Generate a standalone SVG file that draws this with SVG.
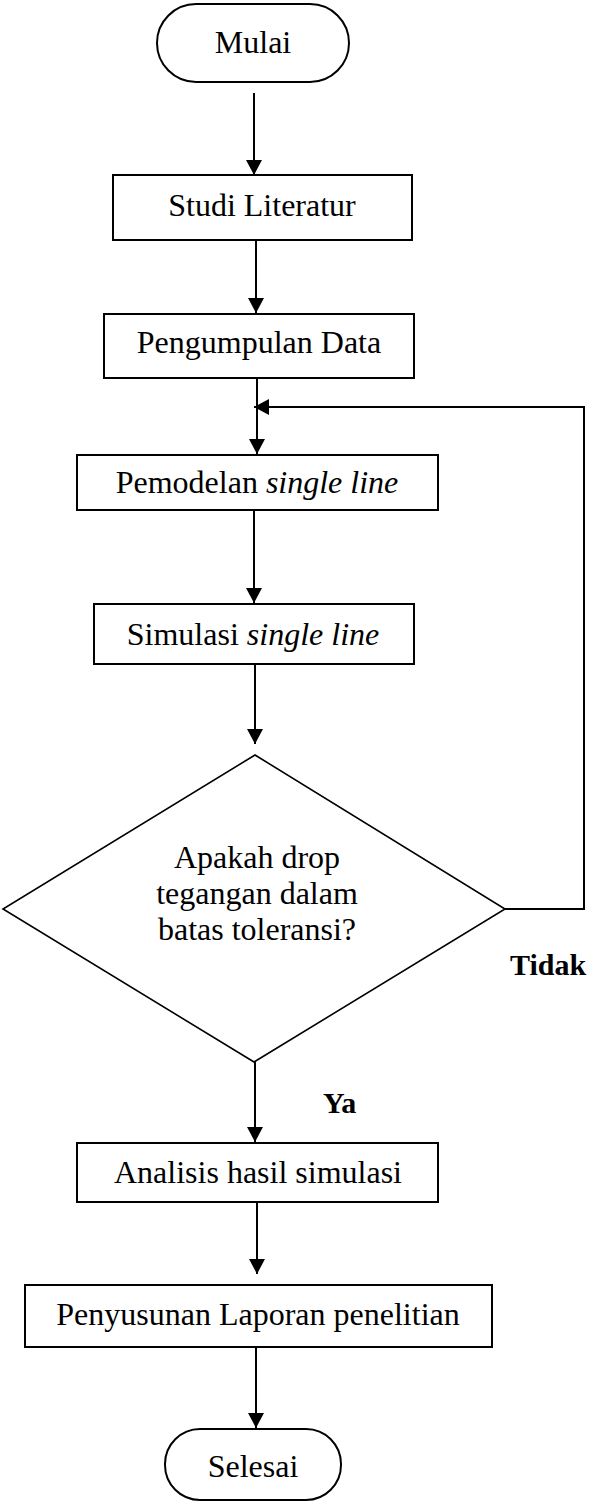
<svg xmlns="http://www.w3.org/2000/svg" width="589" height="1502" viewBox="0 0 589 1502">
  <style>
    .shape { fill: #ffffff; stroke: #000000; stroke-width: 2; }
    .decision { fill: #ffffff; stroke: #000000; stroke-width: 1.6; }
    .label { font-family: "Liberation Serif", "Times New Roman", serif; font-size: 32px; fill: #000000; text-anchor: middle; }
    .branch { font-family: "Liberation Serif", "Times New Roman", serif; font-size: 30px; font-weight: bold; fill: #000000; }
    .it { font-style: italic; }
    .conn { fill: none; stroke: #000000; stroke-width: 2; }
    .arrow { marker-end: url(#head); }
  </style>
  <defs>
    <marker id="head" viewBox="0 0 15 16" refX="15" refY="8" markerWidth="15" markerHeight="16" markerUnits="userSpaceOnUse" orient="auto">
      <path d="M0,0 L15,8 L0,16 Z" fill="#000000"/>
    </marker>
  </defs>

  <rect width="589" height="1502" fill="#ffffff"/>

  <!-- connectors -->
  <g id="connectors">
    <line class="conn arrow" x1="254" y1="93" x2="254" y2="175"/>
    <line class="conn arrow" x1="256" y1="240" x2="256" y2="313"/>
    <line class="conn arrow" x1="257" y1="378" x2="257" y2="454"/>
    <line class="conn arrow" x1="254" y1="510" x2="254" y2="603"/>
    <line class="conn arrow" x1="255" y1="664" x2="255" y2="744"/>
    <line class="conn arrow" x1="255" y1="1062" x2="255" y2="1142"/>
    <line class="conn arrow" x1="257" y1="1202" x2="257" y2="1274"/>
    <line class="conn arrow" x1="256" y1="1347" x2="256" y2="1428"/>
    <!-- loop back when the voltage drop is out of tolerance -->
    <polyline class="conn arrow" points="505,909 584,909 584,407 254,407"/>
    <text class="branch" x="323" y="1113">Ya</text>
    <text class="branch" x="510" y="975">Tidak</text>
  </g>

  <g id="mulai">
    <rect class="shape" x="157" y="4" width="192" height="78" rx="39" ry="39"/>
    <text class="label" x="253" y="53">Mulai</text>
  </g>

  <g id="studi-literatur">
    <rect class="shape" x="113" y="175" width="299" height="65"/>
    <text class="label" x="262" y="216">Studi Literatur</text>
  </g>

  <g id="pengumpulan-data">
    <rect class="shape" x="104" y="314" width="310" height="64"/>
    <text class="label" x="259" y="353">Pengumpulan Data</text>
  </g>

  <g id="pemodelan">
    <rect class="shape" x="77" y="455" width="361" height="55"/>
    <text class="label" x="257" y="493">Pemodelan <tspan class="it">single line</tspan></text>
  </g>

  <g id="simulasi">
    <rect class="shape" x="94" y="604" width="320" height="60"/>
    <text class="label" x="253" y="645">Simulasi <tspan class="it">single line</tspan></text>
  </g>

  <g id="cek-drop">
    <polygon class="decision" points="255,755 505,909 254,1062 3,909"/>
    <text class="label" x="257" y="868">Apakah drop</text>
    <text class="label" x="257" y="904">tegangan dalam</text>
    <text class="label" x="257" y="940">batas toleransi?</text>
  </g>

  <g id="analisis">
    <rect class="shape" x="77" y="1143" width="361" height="59"/>
    <text class="label" x="258" y="1183">Analisis hasil simulasi</text>
  </g>

  <g id="penyusunan">
    <rect class="shape" x="25" y="1285" width="467" height="62"/>
    <text class="label" x="258" y="1325">Penyusunan Laporan penelitian</text>
  </g>

  <g id="selesai">
    <rect class="shape" x="165" y="1429" width="176" height="71" rx="35" ry="35"/>
    <text class="label" x="253" y="1477">Selesai</text>
  </g>
</svg>
